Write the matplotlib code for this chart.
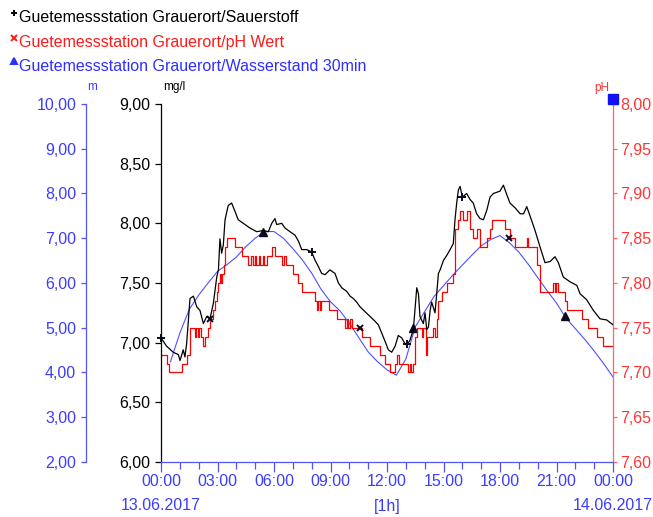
import matplotlib

matplotlib.use("Agg")
import matplotlib.pyplot as plt
from matplotlib.ticker import FixedLocator, FuncFormatter, MultipleLocator

plt.rcParams["font.family"] = ["Liberation Sans", "DejaVu Sans"]

# ---- data (hours after 13.06.2017 00:00) ---------------------------------
o2_hours = [
    0.0, 0.3, 0.65, 0.92, 1.01, 1.18, 1.27, 1.36, 1.54, 1.72, 1.9, 2.07, 2.25,
    2.43, 2.6, 2.78, 2.96, 3.05, 3.13, 3.22, 3.31, 3.4, 3.57, 3.75, 3.93, 4.1,
    4.37, 4.73, 5.08, 5.43, 5.7, 5.88, 6.05, 6.14, 6.41, 6.59, 6.85, 7.12, 7.3,
    7.47, 7.74, 8.0, 8.18, 8.35, 8.53, 8.71, 8.97, 9.24, 9.42, 9.6, 9.86, 10.04,
    10.21, 10.39, 10.57, 10.83, 11.1, 11.36, 11.54, 11.72, 11.9, 12.07, 12.25,
    12.43, 12.6, 12.78, 12.96, 13.05, 13.22, 13.4, 13.58, 13.67, 13.75, 13.93,
    14.02, 14.11, 14.2, 14.29, 14.37, 14.55, 14.64, 14.73, 14.82, 15.0, 15.17,
    15.35, 15.52, 15.61, 15.7, 15.79, 15.88, 16.0, 16.23, 16.41, 16.58, 16.76,
    16.94, 17.12, 17.3, 17.47, 17.65, 18.0, 18.18, 18.36, 18.53, 18.8, 19.07,
    19.25, 19.42, 19.6, 19.86, 20.13, 20.39, 20.66, 20.92, 21.1, 21.36, 21.72,
    22.08, 22.25, 22.6, 22.96, 23.31, 23.67, 24.0,
]
o2_mgl = [
    7.04, 6.97, 6.92, 6.90, 6.85, 6.94, 6.88, 6.99, 7.37, 7.39, 7.30, 7.27, 7.16,
    7.22, 7.20, 7.33, 7.55, 7.61, 7.87, 7.75, 7.82, 8.03, 8.15, 8.17, 8.10, 8.03,
    8.00, 7.96, 7.93, 7.94, 7.93, 8.00, 8.04, 7.99, 8.00, 7.96, 7.93, 7.90, 7.85,
    7.78, 7.78, 7.76, 7.69, 7.64, 7.58, 7.57, 7.61, 7.58, 7.50, 7.46, 7.43, 7.39,
    7.37, 7.34, 7.30, 7.26, 7.22, 7.18, 7.15, 7.08, 7.01, 6.94, 6.92,
    6.97, 7.06, 7.04, 6.99, 6.98, 7.02, 7.11, 7.46, 7.41, 7.22, 7.16,
    7.25, 7.11, 7.13, 7.27, 7.34, 7.25, 7.41, 7.58, 7.61, 7.69, 7.73,
    7.78, 7.83, 8.03, 8.17, 8.28, 8.31, 8.22, 8.25, 8.20, 8.17, 8.08,
    8.04, 8.03, 8.11, 8.22, 8.25, 8.27, 8.32, 8.24, 8.17, 8.13, 8.08,
    8.08, 8.14, 8.06, 7.94, 7.80, 7.67, 7.68, 7.72, 7.67, 7.55, 7.51,
    7.48, 7.41, 7.36, 7.27, 7.20, 7.19, 7.15,
]

ph_hours = [
    0.0, 0.3, 0.4, 1.1, 1.36, 1.54, 1.8, 1.85, 1.95, 2.0, 2.1, 2.25, 2.34, 2.52,
    2.6, 2.75, 2.87, 2.96, 3.05, 3.13, 3.2, 3.25, 3.32, 3.4, 3.49, 3.93, 4.28,
    4.64, 4.8, 4.86, 5.0, 5.06, 5.2, 5.26, 5.4, 5.46, 5.61, 5.88, 6.05, 6.41,
    6.55, 6.65, 7.03, 7.3, 7.47, 8.18, 8.27, 8.35, 8.42, 8.5, 8.9, 9.33, 9.77,
    9.85, 9.95, 10.05, 10.15, 10.66, 11.1, 11.63, 11.9, 12.16, 12.43, 12.55,
    12.65, 13.13, 13.22, 13.28, 13.4, 13.49, 13.58, 13.84, 13.93, 14.05, 14.12,
    14.46, 14.55, 14.64, 14.73, 14.91, 15.17, 15.52, 15.61, 15.79, 15.88, 16.05,
    16.23, 16.41, 16.58, 16.76, 16.94, 17.3, 17.47, 17.56, 18.27, 18.53, 18.8,
    19.42, 19.51, 19.95, 20.1, 20.83, 20.9, 20.98, 21.1, 21.45, 21.54, 22.34,
    22.69, 23.14, 23.49, 24.0,
]
ph_values = [
    7.72, 7.71, 7.70, 7.71, 7.72, 7.75, 7.74, 7.75, 7.74, 7.75, 7.74, 7.73, 7.74, 7.75,
    7.76, 7.77, 7.78, 7.79, 7.80, 7.81, 7.80, 7.81, 7.82, 7.84, 7.85, 7.84, 7.83,
    7.82, 7.83, 7.82, 7.83, 7.82, 7.83, 7.82, 7.83, 7.82, 7.83, 7.84, 7.83, 7.82,
    7.83, 7.82, 7.81, 7.80, 7.79, 7.78, 7.77, 7.78, 7.77, 7.78, 7.77, 7.76, 7.75,
    7.76, 7.75, 7.76, 7.75, 7.74, 7.73, 7.72, 7.71, 7.70, 7.71, 7.72,
    7.71, 7.70, 7.71, 7.70, 7.71, 7.74, 7.75, 7.74, 7.75, 7.72, 7.74,
    7.75, 7.74, 7.76, 7.78, 7.79, 7.80, 7.81, 7.86, 7.87, 7.88, 7.87,
    7.88, 7.86, 7.85, 7.86, 7.84, 7.85, 7.86, 7.87, 7.86, 7.85, 7.84,
    7.85, 7.84, 7.82, 7.79, 7.80, 7.79, 7.80, 7.79, 7.78, 7.77, 7.76,
    7.75, 7.74, 7.73, 7.73,
]

level_hours = [
    0.5, 1.0, 1.5, 2.0, 2.5, 3.0, 3.5, 4.0, 4.5, 5.0, 5.5, 6.0, 6.5, 7.0, 7.5,
    8.0, 8.5, 9.0, 9.5, 10.0, 10.5, 11.0, 11.5, 12.0, 12.5, 13.0, 13.5, 14.0,
    14.5, 15.0, 15.5, 16.0, 16.5, 17.0, 17.5, 18.0, 18.5, 19.0, 19.5, 20.0,
    20.5, 21.0, 21.5, 22.0, 22.5, 23.0, 23.5, 24.0,
]
level_m = [
    4.24, 4.88, 5.41, 5.73, 6.00, 6.26, 6.41, 6.58, 6.81, 7.00, 7.15, 7.15, 7.00,
    6.77, 6.52, 6.22, 5.86, 5.58, 5.38, 5.10, 4.78, 4.46, 4.24, 4.06, 3.94, 4.30,
    5.02, 5.36, 5.70, 5.94, 6.18, 6.40, 6.62, 6.83, 6.97, 7.06, 6.90, 6.69, 6.42,
    6.12, 5.83, 5.55, 5.22, 4.98, 4.74, 4.48, 4.20, 3.90,
]

o2_mark_hours = [0.0, 8.0, 13.05, 16.0]
o2_mark_vals = [7.04, 7.76, 6.99, 8.22]
ph_mark_hours = [2.6, 10.57, 18.5]
ph_mark_vals = [7.76, 7.75, 7.85]
level_mark_hours = [5.43, 13.4, 21.45]
level_mark_vals = [7.15, 4.99, 5.27]

hour_ticks = [0, 3, 6, 9, 12, 15, 18, 21, 24]
hour_labels = ["00:00", "03:00", "06:00", "09:00", "12:00", "15:00", "18:00", "21:00", "00:00"]
series_names = [
    "Guetemessstation Grauerort/Sauerstoff",
    "Guetemessstation Grauerort/pH Wert",
    "Guetemessstation Grauerort/Wasserstand 30min",
]

BLUE_AX = "#5252ff"
BLUE_TXT = "#3c3cff"
BLUE_LINE = "#5050ff"
RED_AX = "#ff6464"
RED_TXT = "#ff3535"
MARK = "#0a0a20"
FS = 11.5

W, H = 653, 517


def fx(x):
    return x / W


def fy(y):
    return 1 - y / H


comma = FuncFormatter(lambda v, p: f"{v:.2f}".replace(".", ","))

fig = plt.figure(figsize=(W / 100, H / 100), dpi=100)
ax = fig.add_axes([fx(161), fy(462), 452 / W, 358 / H])
ax_ph = ax.twinx()
ax_m = ax.twinx()

for a in (ax, ax_ph, ax_m):
    for s in a.spines.values():
        s.set_visible(False)

ax.spines["left"].set_visible(True)
ax.spines["left"].set_color("black")
ax.spines["bottom"].set_visible(True)
ax.spines["bottom"].set_color(BLUE_AX)
ax_ph.spines["right"].set_visible(True)
ax_ph.spines["right"].set_color(RED_AX)
ax_m.spines["left"].set_visible(True)
ax_m.spines["left"].set_color(BLUE_AX)
ax_m.spines["left"].set_position(("outward", 75 * 0.72))
for s in (ax.spines["left"], ax.spines["bottom"], ax_ph.spines["right"], ax_m.spines["left"]):
    s.set_linewidth(0.9)

# ---- series ---------------------------------------------------------------
ax_m.plot(level_hours, level_m, color=BLUE_LINE, lw=0.8)
ax_ph.step(ph_hours, ph_values, where="post", color="#ff0000", lw=0.9)
ax.plot(o2_hours, o2_mgl, color="black", lw=0.9)

ax.plot(o2_mark_hours, o2_mark_vals, ls="none", marker="+", ms=6, mew=1.4, color=MARK, clip_on=False)
ax_ph.plot(ph_mark_hours, ph_mark_vals, ls="none", marker="x", ms=4.5, mew=1.4, color=MARK)
ax_m.plot(level_mark_hours, level_mark_vals, ls="none", marker="^", ms=5.5, color=MARK)

ax.set_zorder(ax_m.get_zorder() + 2)
ax_ph.set_zorder(ax_m.get_zorder() + 1)
ax.patch.set_visible(False)

# ---- axes -----------------------------------------------------------------
ax.set_xlim(0, 24)
ax.xaxis.set_major_locator(FixedLocator(hour_ticks))
ax.set_xticklabels(hour_labels)
ax.xaxis.set_minor_locator(MultipleLocator(1))
ax.tick_params(axis="x", which="major", direction="out", length=7, width=0.9,
               color=BLUE_AX, labelcolor=BLUE_TXT, labelsize=FS, pad=2)
ax.tick_params(axis="x", which="minor", direction="out", length=5, width=0.9, color=BLUE_AX)

ax.set_ylim(6, 9)
ax.yaxis.set_major_locator(MultipleLocator(0.5))
ax.yaxis.set_major_formatter(comma)
ax.tick_params(axis="y", direction="out", length=4.3, width=0.9, color="black",
               labelcolor="black", labelsize=FS, pad=3.5)

ax_ph.set_ylim(7.6, 8.0)
ax_ph.yaxis.set_major_locator(MultipleLocator(0.05))
ax_ph.yaxis.set_major_formatter(comma)
ax_ph.tick_params(axis="y", direction="out", length=3, width=0.9, color=RED_AX,
                  labelcolor=RED_TXT, labelsize=FS, pad=2)

ax_m.set_ylim(2, 10)
ax_m.yaxis.tick_left()
ax_m.yaxis.set_major_locator(MultipleLocator(1))
ax_m.yaxis.set_major_formatter(comma)
ax_m.tick_params(axis="y", direction="out", length=3.6, width=0.9, color=BLUE_AX,
                 labelcolor=BLUE_TXT, labelsize=FS, pad=3.5)

# unit labels and the blue square on top of the pH axis
fig.text(fx(87), fy(87), "m", color=BLUE_TXT, fontsize=8.5, ha="left", va="center")
fig.text(fx(163), fy(87), "mg/l", color="black", fontsize=8.5, ha="left", va="center")
fig.text(fx(609), fy(88), "pH", color=RED_TXT, fontsize=8.5, ha="right", va="center")
ax.plot([fx(612.5)], [fy(99)], marker="s", ms=6.5, color="#1010f0",
        transform=fig.transFigure, clip_on=False)

# date row under the time axis
fig.text(fx(161), fy(506), "13.06.2017", color=BLUE_TXT, fontsize=FS, ha="center", va="center")
fig.text(fx(387), fy(506), "[1h]", color=BLUE_TXT, fontsize=FS, ha="center", va="center")
fig.text(fx(613), fy(506), "14.06.2017", color=BLUE_TXT, fontsize=FS, ha="center", va="center")

# legend, hand placed like the original header
legend_colors = ["black", "#ff1a1a", "#2e2eff"]
legend_markers = ["+", "x", "^"]
legend_baselines = [22.5, 46.5, 70.7]
legend_marker_y = [13, 38, 61]
for name, col, mk, yb, ym in zip(series_names, legend_colors, legend_markers,
                                 legend_baselines, legend_marker_y):
    fig.text(fx(19), fy(yb), name, color=col, fontsize=FS, ha="left", va="baseline")
    ax.plot([fx(13.5)], [fy(ym)], marker=mk, ms=4, mew=1.4, color=col,
            transform=fig.transFigure, clip_on=False)

fig.savefig("out.png", dpi=100)
